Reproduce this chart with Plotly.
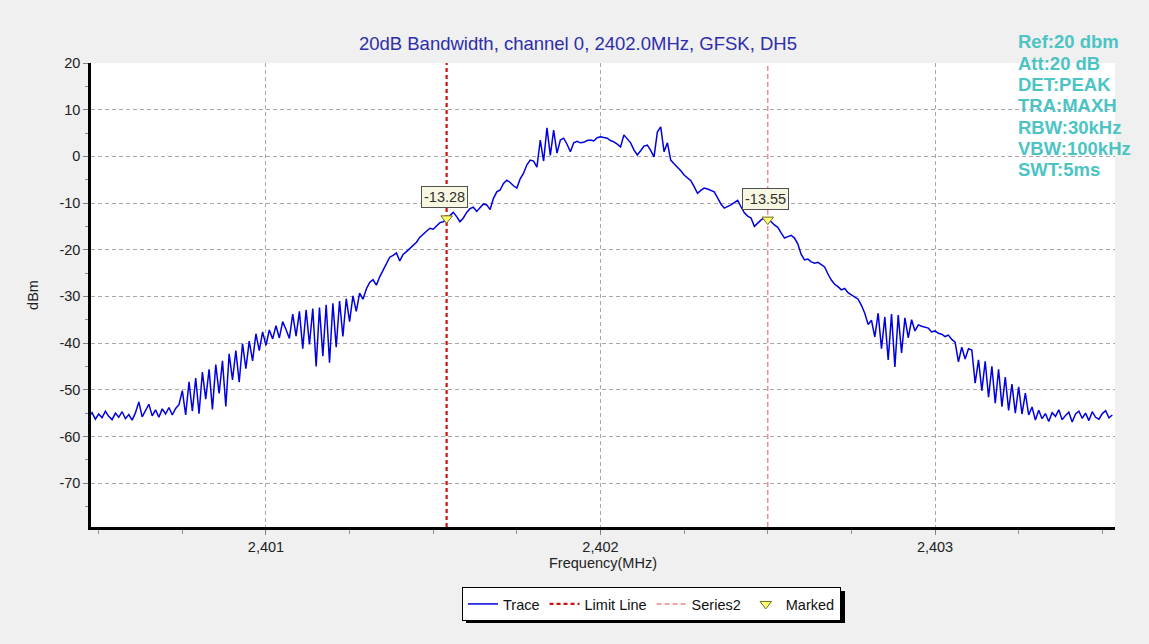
import plotly.graph_objects as go

# ---------------- data ----------------
TITLE = "20dB Bandwidth, channel 0, 2402.0MHz, GFSK, DH5"
START_MHZ = 2400.47
STEP_MHZ = 0.01
TRACE_DBM = [
    -55.8, -54.9, -56.3, -55.2, -56.0, -54.6, -55.7, -56.4, -55.0, -55.9,
    -54.7, -56.2, -55.3, -56.5, -54.9, -52.6, -55.8, -54.5, -53.1, -55.6,
    -54.3, -55.9, -54.1, -55.2, -53.8, -55.4, -54.0, -53.2, -50.2, -55.4,
    -48.3, -54.6, -47.5, -55.1, -46.2, -52.0, -45.6, -54.2, -44.6, -50.8,
    -43.8, -53.6, -42.3, -47.9, -41.6, -48.4, -40.1, -45.5, -39.6, -43.8,
    -38.0, -41.6, -37.6, -40.5, -37.2, -39.1, -36.3, -38.9, -35.4, -37.1,
    -39.0, -33.8, -38.5, -33.2, -41.2, -32.9, -40.3, -32.6, -45.0, -32.4,
    -42.8, -31.8, -44.2, -31.5, -40.9, -31.0, -38.6, -30.5, -35.4, -29.9,
    -33.2, -29.3, -30.6, -28.4, -27.0, -26.4, -27.6, -25.8, -24.4, -23.0,
    -21.6, -21.2, -20.7, -22.4, -21.0, -20.4, -19.8, -19.0, -18.4, -17.3,
    -16.6, -16.0, -15.4, -15.6, -14.8, -14.2, -14.0, -13.3, -12.6, -12.0,
    -12.9, -14.0, -13.2, -12.0, -11.2, -10.9, -11.8, -10.9, -10.2, -10.4,
    -11.4, -9.0, -7.6, -7.2, -5.8, -5.1, -5.6, -6.3, -6.8, -4.8,
    -3.6, -1.8, -0.8, -1.0, -2.3, 3.5, -1.0, 6.1, 0.2, 5.6,
    0.7, 3.5, 3.9, 2.6, 1.0, 2.9, 3.2, 2.9, 3.0, 3.4,
    3.5, 3.3, 4.0, 4.2, 4.0, 3.9, 3.4, 3.1, 2.6, 2.0,
    4.6, 3.8, 2.9, 1.4, 0.3, 1.2, 2.2, 2.4, 1.3, -0.1,
    5.2, 6.3, 1.0, 2.9, -0.8, -1.6, -2.3, -3.1, -4.0, -4.6,
    -5.2, -6.5, -7.9, -7.3, -6.8, -7.0, -7.3, -7.6, -8.9, -10.2,
    -11.1, -10.8, -10.4, -9.9, -9.4, -10.8, -12.1, -12.8, -13.2, -15.0,
    -14.2, -13.6, -13.2, -13.55, -14.0, -14.7, -15.2, -16.4, -17.5, -17.2,
    -16.9, -17.5, -18.8, -21.0, -22.2, -22.0, -22.6, -22.9, -22.7, -23.2,
    -23.7, -25.2, -26.5, -27.4, -27.9, -28.6, -28.3, -29.2, -29.7, -30.1,
    -30.6, -31.9, -33.6, -36.0, -35.1, -38.7, -33.6, -41.2, -34.4, -43.6,
    -33.8, -45.1, -34.0, -42.1, -34.6, -38.9, -35.0, -37.4, -36.1, -36.4,
    -36.6, -36.8, -37.6, -37.4, -37.9, -38.1, -38.6, -38.3, -39.2, -39.8,
    -44.0, -40.9, -43.4, -41.2, -41.5, -48.6, -43.6, -50.2, -43.9, -51.6,
    -45.0, -52.9, -45.6, -53.6, -47.3, -54.4, -48.8, -55.0, -49.4, -55.2,
    -50.7, -55.4, -53.7, -56.5, -54.4, -56.2, -55.1, -56.8, -54.9, -55.7,
    -54.3, -56.4, -55.5, -54.8, -56.9, -55.2, -54.6, -56.1, -55.0, -56.6,
    -54.7, -55.9, -56.3, -55.1, -54.5, -56.0, -55.4,
]
LIMIT_MHZ = 2401.54
SERIES2_MHZ = 2402.50
MARK_MHZ = [2401.54, 2402.50]
MARK_DBM = [-13.28, -13.55]
MARK_TEXT = ["-13.28", "-13.55"]
Y_RANGE = [-79.4, 20]
X_RANGE = [2400.477, 2403.538]
Y_TICKS = [-70, -60, -50, -40, -30, -20, -10, 0, 10, 20]
Y_TICK_TEXT = ["-70", "-60", "-50", "-40", "-30", "-20", "-10", "0", "10", "20"]
INFO_LINES = ["Ref:20 dbm", "Att:20 dB", "DET:PEAK", "TRA:MAXH",
              "RBW:30kHz", "VBW:100kHz", "SWT:5ms"]

# ---------------- layout constants ----------------
W, H = 1149, 644
ML, MR, MT, MB = 91, 34, 63, 117
PW, PH = W - ML - MR, H - MT - MB
FONT = "Arial, 'Liberation Sans', sans-serif"
BG = "#f0f0f0"


def px_x(x):
    return (x - ML) / PW


def px_y(y):
    return (H - MB - y) / PH


fig = go.Figure()
fig.add_trace(go.Scatter(
    y=TRACE_DBM, x0=START_MHZ, dx=STEP_MHZ, mode="lines", name="Trace",
    line=dict(color="#0000e0", width=1.5)))
fig.add_trace(go.Scatter(
    x=[LIMIT_MHZ, LIMIT_MHZ], y=Y_RANGE, mode="lines", name="Limit Line",
    line=dict(color="#cc1111", width=2.2, dash="4px,3px")))
fig.add_trace(go.Scatter(
    x=[SERIES2_MHZ, SERIES2_MHZ], y=Y_RANGE, mode="lines", name="Series2",
    line=dict(color="#f08888", width=1.4, dash="5px,3px")))
fig.add_trace(go.Scatter(
    x=MARK_MHZ, y=MARK_DBM, mode="markers", name="Marked",
    marker=dict(symbol="triangle-down", size=10, color="#ffff70",
                line=dict(color="#6b6b20", width=1))))

annotations = []
for f, v, t in zip(MARK_MHZ, MARK_DBM, MARK_TEXT):
    annotations.append(dict(
        x=f, y=v, xref="x", yref="y", text=t, showarrow=False, yshift=21,
        xshift=-2, font=dict(family=FONT, size=14.5, color="#303030"),
        bgcolor="#f7f7e2", bordercolor="#505050", borderwidth=1, borderpad=2))

for k, line in enumerate(INFO_LINES):
    annotations.append(dict(
        x=px_x(1016), y=px_y(42 + k * 21.3), xref="paper", yref="paper",
        xanchor="left", yanchor="middle", showarrow=False,
        text="<b>" + line + "</b>",
        font=dict(family=FONT, size=18.5, color="#4cc4c4")))

fig.update_layout(
    width=W, height=H,
    margin=dict(l=ML, r=MR, t=MT, b=MB, autoexpand=False),
    paper_bgcolor=BG, plot_bgcolor="#ffffff",
    font=dict(family=FONT, size=14.5, color="#222222"),
    title=dict(text=TITLE, x=0.503, xanchor="center", y=1 - 44 / H,
               yanchor="middle",
               font=dict(family=FONT, size=18.5, color="#2e2eaa")),
    showlegend=True,
    legend=dict(orientation="h", x=px_x(462), y=px_y(587), xanchor="left",
                yanchor="top", bgcolor="#ffffff", bordercolor="#000000",
                borderwidth=1, font=dict(family=FONT, size=14.5, color="#111111"),
                itemwidth=30, tracegroupgap=0),
    annotations=annotations,
    shapes=[dict(type="rect", xref="paper", yref="paper",
                 x0=px_x(466), x1=px_x(845), y0=px_y(623), y1=px_y(591),
                 fillcolor="#000000", line=dict(width=0), layer="below")],
)

fig.update_xaxes(
    range=X_RANGE, tick0=2401, dtick=1, tickformat=",d",
    showline=True, linecolor="#000000", linewidth=2.5, mirror=False,
    ticks="outside", ticklen=5, tickcolor="#808080",
    showgrid=True, gridcolor="#a8a8a8", griddash="4px,3px", gridwidth=1,
    zeroline=False,
    minor=dict(dtick=0.25, tick0=2401, ticks="outside", ticklen=4,
               tickcolor="#909090", showgrid=False),
    title=dict(text="Frequency(MHz)", standoff=4,
               font=dict(family=FONT, size=14.5, color="#222222")),
)
fig.update_yaxes(
    range=Y_RANGE, tickvals=Y_TICKS, ticktext=Y_TICK_TEXT,
    showline=True, linecolor="#000000", linewidth=2.5, mirror=False,
    ticks="outside", ticklen=5, tickcolor="#808080",
    showgrid=True, gridcolor="#a8a8a8", griddash="4px,3px", gridwidth=1,
    zeroline=False,
    minor=dict(dtick=5, tick0=0, ticks="outside", ticklen=3,
               tickcolor="#909090", showgrid=False),
    title=dict(text="dBm", standoff=18,
               font=dict(family=FONT, size=14.5, color="#222222")),
)

fig.write_html(
    "out.html",
    config={"displayModeBar": False},
    post_script="document.body.style.margin='0';"
                "document.body.style.background='" + BG + "';",
)
